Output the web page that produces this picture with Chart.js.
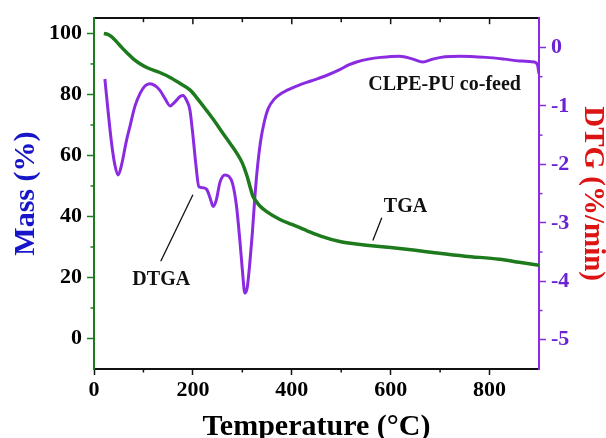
<!DOCTYPE html>
<html lang="en">
<head>
  <meta charset="UTF-8" />
  <title>CLPE-PU co-feed TGA / DTG</title>
  <script src="https://cdn.jsdelivr.net/npm/chart.js"></script>
  <style>
    * { margin: 0; padding: 0; box-sizing: border-box; }
    body { background: #fff; width: 606px; height: 438px; overflow: hidden; }
    canvas { display: block; }
  </style>
</head>
<body>
  <canvas id="tga" width="606" height="438"></canvas>

  <script>
    // TGA curve (mass %, left axis)
    const tgaTemp = [20, 28, 36, 45, 55, 67, 80, 93, 110, 133, 155, 175, 194, 210, 228, 245, 261, 275, 289, 300, 309, 316, 321, 328, 335, 350, 376, 400, 430, 460, 497, 530, 551, 600, 650, 685, 750, 820, 860, 900];
    const tgaMass = [100, 99.7, 98.9, 97.4, 95.6, 93.6, 91.6, 90.1, 88.6, 87.2, 85.5, 83.5, 81.5, 78.5, 74.7, 71, 67.2, 64, 60.7, 57.5, 53.5, 49.5, 46.8, 45, 43.5, 41.5, 39, 37.4, 35.4, 33.5, 31.8, 31, 30.6, 29.8, 28.9, 28.2, 27, 26, 25, 24];

    // DTG curve (%/min, right axis)
    const dtgTemp = [22, 28, 35, 42, 49, 56, 65, 73, 83, 93, 103, 113, 123, 133, 144, 154, 164, 174, 180, 187, 194, 200, 206, 212, 220, 228, 235, 241, 247, 255, 265, 272, 280, 288, 295, 300, 305, 310, 315, 320, 325, 330, 337, 345, 352, 365, 380, 410, 440, 470, 497, 515, 531, 555, 580, 618, 645, 665, 685, 710, 740, 793, 830, 860, 890, 897, 900];
    const dtgRate = [-0.54, -1.05, -1.6, -2.0, -2.18, -2.0, -1.62, -1.34, -1.0, -0.79, -0.66, -0.62, -0.65, -0.73, -0.88, -1.0, -0.93, -0.84, -0.82, -0.9, -1.07, -1.5, -2.0, -2.38, -2.4, -2.43, -2.58, -2.72, -2.62, -2.3, -2.18, -2.2, -2.32, -2.7, -3.3, -3.8, -4.2, -4.1, -3.7, -3.2, -2.6, -2.1, -1.6, -1.25, -1.05, -0.88, -0.78, -0.66, -0.57, -0.48, -0.38, -0.3, -0.25, -0.2, -0.17, -0.15, -0.2, -0.25, -0.2, -0.16, -0.15, -0.17, -0.2, -0.23, -0.25, -0.3, -0.45];

    const massTicks = [0, 20, 40, 60, 80, 100];
    const dtgTicks = [0, -1, -2, -3, -4, -5];
    const tempTicks = [0, 200, 400, 600, 800];

    const SERIF = '"Liberation Serif", "Times New Roman", serif';
    const GREEN = '#1d7a1d';
    const PURPLE = '#8a2be2';
    const PURPLE_TXT = '#6a22d6';

    const tickFont = { family: SERIF, size: 22, weight: 'bold' };

    // minor ticks + inward top ticks + text labels, placed through the scales
    const extras = {
      id: 'extras',
      afterDraw(chart) {
        const { ctx, chartArea: a, scales } = chart;
        const x = scales.x, y = scales.y, y2 = scales.y2;
        ctx.save();
        ctx.lineWidth = 1.5;

        // bottom minor ticks + top ticks
        ctx.strokeStyle = '#111';
        for (let t = 100; t < 900; t += 100) {
          const px = x.getPixelForValue(t);
          const major = t % 200 === 0;
          if (!major) {
            ctx.beginPath(); ctx.moveTo(px, a.bottom); ctx.lineTo(px, a.bottom + 3.5); ctx.stroke();
          }
          ctx.beginPath(); ctx.moveTo(px, a.top); ctx.lineTo(px, a.top + (major ? 6 : 4)); ctx.stroke();
        }

        // left minor ticks
        ctx.strokeStyle = GREEN;
        for (let v = 10; v < 105; v += 20) {
          const py = y.getPixelForValue(v);
          ctx.beginPath(); ctx.moveTo(a.left, py); ctx.lineTo(a.left - 3.5, py); ctx.stroke();
        }

        // right minor ticks
        ctx.strokeStyle = PURPLE;
        for (let v = -0.5; v > -5.5; v -= 1) {
          const py = y2.getPixelForValue(v);
          ctx.beginPath(); ctx.moveTo(a.right, py); ctx.lineTo(a.right + 3.5, py); ctx.stroke();
        }

        // annotations (temperature, mass coordinates)
        ctx.fillStyle = '#111';
        ctx.strokeStyle = '#111';
        ctx.lineWidth = 1.3;
        ctx.font = 'bold 20px ' + SERIF;
        ctx.textAlign = 'center';
        ctx.textBaseline = 'middle';
        const notes = [
          { text: 'CLPE-PU co-feed', at: [709, 83] },
          { text: 'TGA', at: [630, 43], line: [[564, 32.1], [582, 39.6]] },
          { text: 'DTGA', at: [136, 19.2], line: [[135, 25.3], [200, 47.1]] }
        ];
        notes.forEach(n => {
          ctx.fillText(n.text, x.getPixelForValue(n.at[0]), y.getPixelForValue(n.at[1]));
          if (n.line) {
            ctx.beginPath();
            ctx.moveTo(x.getPixelForValue(n.line[0][0]), y.getPixelForValue(n.line[0][1]));
            ctx.lineTo(x.getPixelForValue(n.line[1][0]), y.getPixelForValue(n.line[1][1]));
            ctx.stroke();
          }
        });
        ctx.restore();
      }
    };

    new Chart(document.getElementById('tga'), {
      type: 'line',
      data: {
        datasets: [
          {
            label: 'TGA',
            data: tgaTemp.map((t, i) => ({ x: t, y: tgaMass[i] })),
            yAxisID: 'y',
            borderColor: GREEN,
            borderWidth: 3.5,
            pointRadius: 0,
            cubicInterpolationMode: 'monotone'
          },
          {
            label: 'DTGA',
            data: dtgTemp.map((t, i) => ({ x: t, y: dtgRate[i] })),
            yAxisID: 'y2',
            borderColor: PURPLE,
            borderWidth: 3,
            pointRadius: 0,
            cubicInterpolationMode: 'monotone'
          }
        ]
      },
      options: {
        responsive: false,
        animation: false,
        layout: { padding: 0 },
        plugins: { legend: { display: false }, tooltip: { enabled: false } },
        scales: {
          x: {
            type: 'linear', position: 'bottom', min: 0, max: 900,
            afterBuildTicks: s => { s.ticks = tempTicks.map(v => ({ value: v })); },
            afterFit: s => { s.height = 69; },
            ticks: { font: tickFont, color: '#000', padding: 2, maxRotation: 0 },
            grid: { drawOnChartArea: false, tickLength: 6, color: '#111', tickWidth: 1.5 },
            border: { color: '#111', width: 2 },
            title: {
              display: true, text: 'Temperature (°C)', color: '#000', padding: 0,
              font: { family: SERIF, size: 30, weight: 'bold', lineHeight: 0.7 }
            }
          },
          xTop: {
            type: 'linear', position: 'top', min: 0, max: 900,
            afterFit: s => { s.height = 14; },
            ticks: { display: false },
            grid: { drawOnChartArea: false, drawTicks: false },
            border: { color: '#111', width: 2 }
          },
          y: {
            type: 'linear', position: 'left', min: -10, max: 105,
            afterBuildTicks: s => { s.ticks = massTicks.map(v => ({ value: v })); },
            afterFit: s => { s.width = 94; },
            ticks: { font: tickFont, color: '#000', padding: 5 },
            grid: { drawOnChartArea: false, tickLength: 7, color: GREEN, tickWidth: 1.5 },
            border: { color: GREEN, width: 2 },
            title: {
              display: true, text: 'Mass (%)', color: '#1616c8', padding: 8,
              font: { family: SERIF, size: 30, weight: 'bold', lineHeight: 1.2 }
            }
          },
          y2: {
            type: 'linear', position: 'right', min: -5.5, max: 0.5,
            afterBuildTicks: s => { s.ticks = dtgTicks.map(v => ({ value: v })); },
            afterFit: s => { s.width = 67; },
            ticks: { font: tickFont, color: PURPLE_TXT, padding: 5 },
            grid: { drawOnChartArea: false, tickLength: 7, color: PURPLE, tickWidth: 1.5 },
            border: { color: PURPLE, width: 2 },
            title: {
              display: true, text: 'DTG (%/min)', color: '#dc1414', padding: 2,
              font: { family: SERIF, size: 29, weight: 'bold', lineHeight: 0.8 }
            }
          }
        }
      },
      plugins: [extras]
    });
  </script>
</body>
</html>
